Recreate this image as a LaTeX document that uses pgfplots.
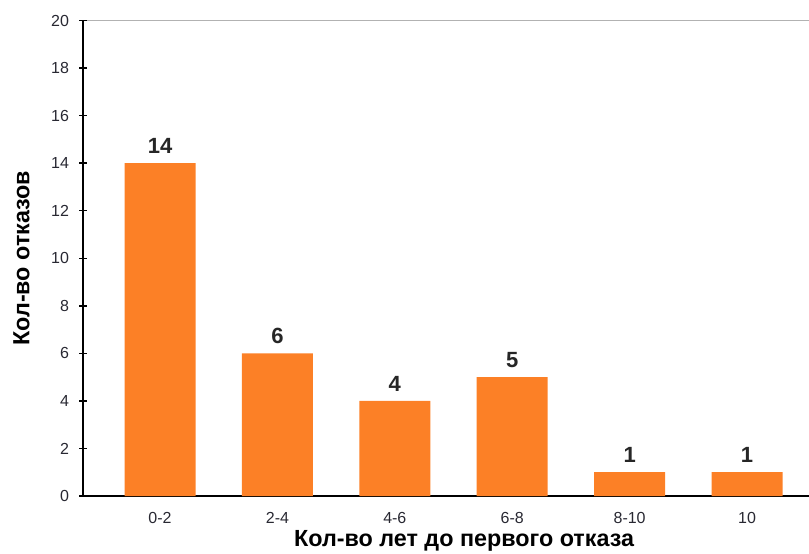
\documentclass[border=0pt]{standalone}
\usepackage{fontspec}
\setmainfont{Liberation Sans}
\usepackage{pgfplots}
\pgfplotsset{compat=1.18}
\definecolor{barorange}{RGB}{252,128,38}
\definecolor{ticktext}{RGB}{40,40,50}
\begin{document}
\begin{tikzpicture}
\useasboundingbox (0,0) rectangle (606.75pt,414.75pt);
\begin{axis}[
  at={(62.25pt,42.75pt)}, anchor=south west,
  x=88.05pt, y=17.83pt,
  xmin=-0.656, xmax=5.8, ymin=0, ymax=20,
  axis x line=bottom, axis y line=left,
  axis line style={-, black, line width=1.1pt},
  clip=false,
  xtick={0,1,2,3,4,5},
  xticklabels={0-2,2-4,4-6,6-8,8-10,10},
  x tick style={draw=none},
  ytick={0,2,...,18},
  extra y ticks={20},
  extra y tick style={grid=major, major grid style={gray!60, line width=0.8pt}},
  tick align=center,
  major tick length=6pt,
  y tick style={black, line width=1.1pt},
  /pgf/number format/assume math mode=true,
  tick label style={font=\fontsize{12}{14}\selectfont, text=ticktext},
  yticklabel style={xshift=-4pt},
  xticklabel style={yshift=-5pt, inner sep=1pt},
  ybar, bar width=53.25pt,
  nodes near coords,
  every node near coord/.append style={font=\bfseries\fontsize{16.5}{17}\selectfont, text=black!85, yshift=3.5pt},
  every axis x label/.style={at={(axis cs:2.59,-2.12)}, anchor=base, inner sep=0.5pt},
  every axis y label/.style={at={(axis cs:-1.18,10)}, rotate=90, anchor=center},
  label style={font=\bfseries\fontsize{17.5}{19}\selectfont},
  xlabel={Кол-во лет до первого отказа},
  ylabel={Кол-во отказов},
]
\addplot[fill=barorange, draw=none] coordinates {(0,14) (1,6) (2,4) (3,5) (4,1) (5,1)};
\end{axis}
\end{tikzpicture}
\end{document}
